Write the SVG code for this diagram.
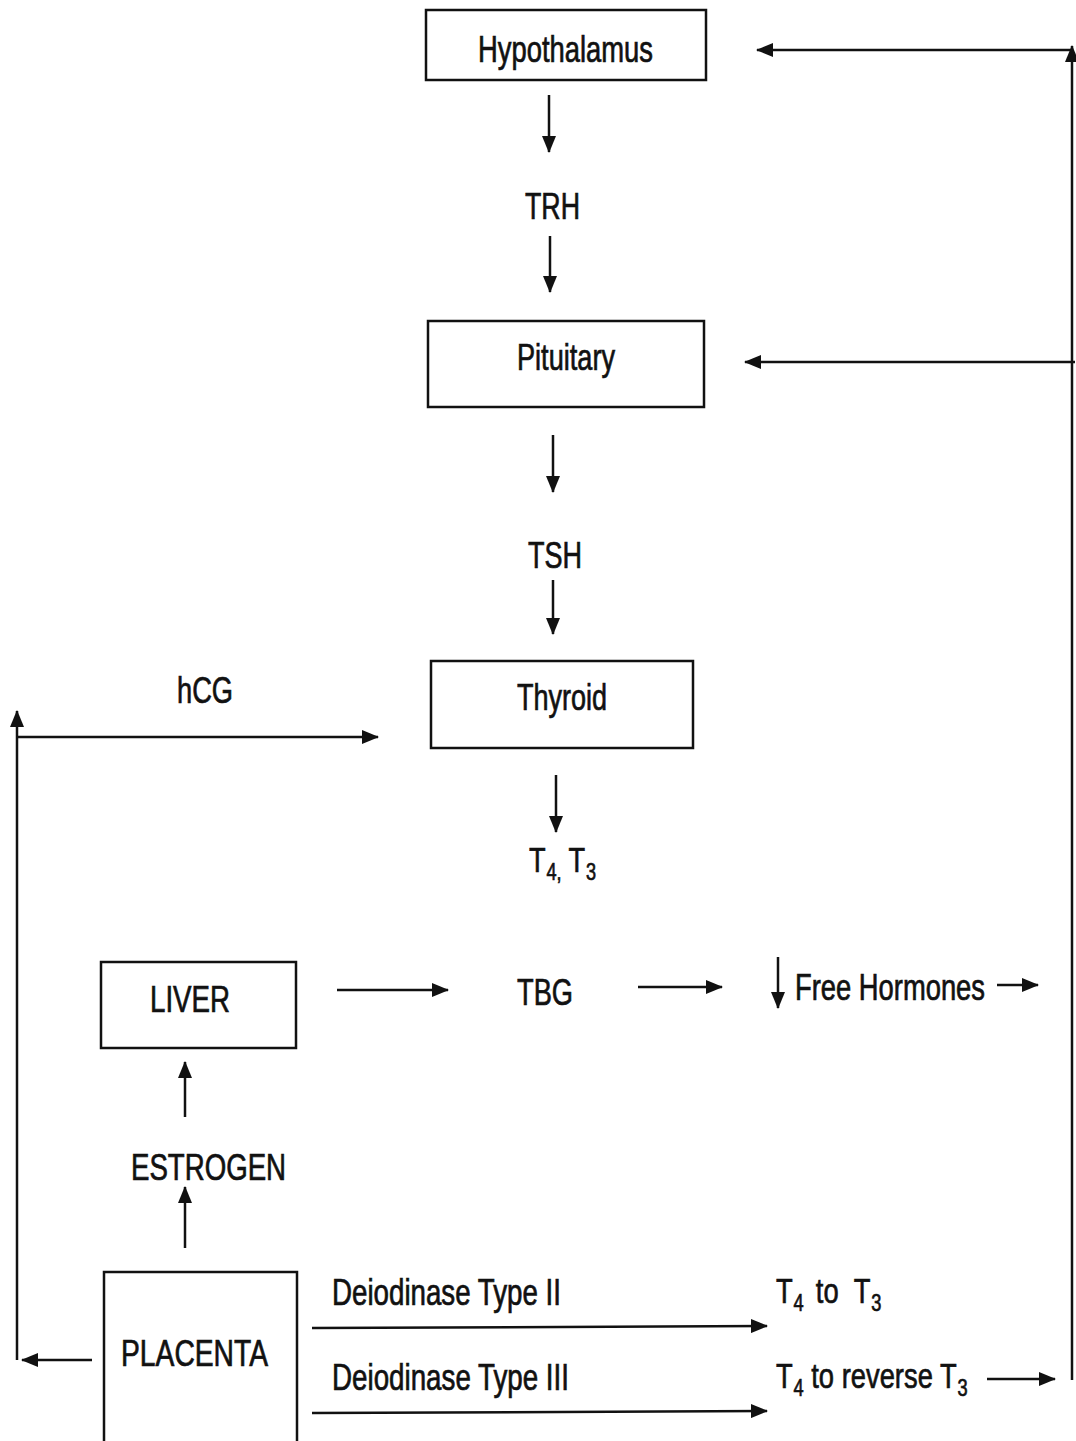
<svg xmlns="http://www.w3.org/2000/svg" width="1076" height="1441" viewBox="0 0 1076 1441">
<defs>
<marker id="ah" markerUnits="userSpaceOnUse" markerWidth="18" markerHeight="14" refX="16" refY="7" orient="auto">
<path d="M0,0 L17,7 L0,14 Z" fill="#111"/>
</marker>
<style>
.box{fill:#fff;stroke:#111;stroke-width:2.5}
.ln{fill:none;stroke:#111;stroke-width:2.5}
.ar{fill:none;stroke:#111;stroke-width:2.5;marker-end:url(#ah)}
text{font-family:"Liberation Sans",Arial,sans-serif;font-size:36px;fill:#111;stroke:#111;stroke-width:0.7}
.sub{font-size:24px}
</style>
</defs>
<rect width="1076" height="1441" fill="#fff"/>
<g id="hypothalamus"><rect class="box" x="426" y="10" width="280" height="70"/><text x="478" y="62" textLength="175" lengthAdjust="spacingAndGlyphs">Hypothalamus</text></g>
<g id="trh"><text x="525" y="219" textLength="55" lengthAdjust="spacingAndGlyphs">TRH</text></g>
<g id="pituitary"><rect class="box" x="428" y="321" width="276" height="86"/><text x="517" y="370" textLength="98" lengthAdjust="spacingAndGlyphs">Pituitary</text></g>
<g id="tsh"><text x="528" y="568" textLength="54" lengthAdjust="spacingAndGlyphs">TSH</text></g>
<g id="thyroid"><rect class="box" x="431" y="661" width="262" height="87"/><text x="517" y="710" textLength="90" lengthAdjust="spacingAndGlyphs">Thyroid</text></g>
<g id="hcg"><text x="177" y="703" textLength="56" lengthAdjust="spacingAndGlyphs">hCG</text></g>
<g id="t4t3" transform="translate(529,872) scale(0.756,1)"><text x="0" y="0">T<tspan class="sub" dx="1" dy="8">4,</tspan><tspan dy="-8"> T</tspan><tspan class="sub" dx="1" dy="8">3</tspan></text></g>
<g id="liver"><rect class="box" x="101" y="962" width="195" height="86"/><text x="150" y="1012" textLength="80" lengthAdjust="spacingAndGlyphs">LIVER</text></g>
<g id="tbg"><text x="517" y="1005" textLength="56" lengthAdjust="spacingAndGlyphs">TBG</text></g>
<g id="free"><text x="795" y="1000" textLength="190" lengthAdjust="spacingAndGlyphs">Free Hormones</text></g>
<g id="estrogen"><text x="131" y="1180" textLength="155" lengthAdjust="spacingAndGlyphs">ESTROGEN</text></g>
<g id="placenta"><rect class="box" x="104" y="1272" width="193" height="175"/><text x="121" y="1366" textLength="147" lengthAdjust="spacingAndGlyphs">PLACENTA</text></g>
<g id="deio2"><text x="332" y="1305" textLength="229" lengthAdjust="spacingAndGlyphs">Deiodinase Type II</text></g>
<g id="deio3"><text x="332" y="1390" textLength="237" lengthAdjust="spacingAndGlyphs">Deiodinase Type III</text></g>
<g id="t4tot3" transform="translate(776,1303) scale(0.76,1)"><text x="0" y="0">T<tspan class="sub" dx="1" dy="8">4</tspan><tspan dx="16" dy="-8">to</tspan><tspan dx="20">T</tspan><tspan class="sub" dx="1" dy="8">3</tspan></text></g>
<g id="t4torev" transform="translate(776,1388) scale(0.76,1)"><text x="0" y="0">T<tspan class="sub" dx="1" dy="8">4</tspan><tspan dy="-8"> to reverse T</tspan><tspan class="sub" dx="1" dy="8">3</tspan></text></g>
<g id="connectors">
<line class="ar" x1="549" y1="95" x2="549" y2="152"/>
<line class="ar" x1="550" y1="236" x2="550" y2="292"/>
<line class="ar" x1="553" y1="435" x2="553" y2="492"/>
<line class="ar" x1="553" y1="580" x2="553" y2="634"/>
<line class="ar" x1="556" y1="775" x2="556" y2="832"/>
<line class="ar" x1="17" y1="1360" x2="17" y2="711"/>
<line class="ar" x1="17" y1="737" x2="378" y2="737"/>
<line class="ar" x1="92" y1="1360" x2="22" y2="1360"/>
<line class="ar" x1="337" y1="990" x2="448" y2="990"/>
<line class="ar" x1="638" y1="987" x2="722" y2="987"/>
<line class="ar" x1="778" y1="957" x2="778" y2="1008"/>
<line class="ar" x1="997" y1="985" x2="1038" y2="985"/>
<line class="ar" x1="185" y1="1117" x2="185" y2="1062"/>
<line class="ar" x1="185" y1="1248" x2="185" y2="1187"/>
<line class="ar" x1="312" y1="1328" x2="767" y2="1326"/>
<line class="ar" x1="312" y1="1413" x2="767" y2="1411"/>
<line class="ar" x1="987" y1="1379" x2="1055" y2="1379"/>
<line class="ar" x1="1072" y1="1380" x2="1072" y2="46"/>
<line class="ar" x1="1072" y1="50" x2="757" y2="50"/>
<line class="ar" x1="1075" y1="362" x2="745" y2="362"/>
</g>
</svg>
